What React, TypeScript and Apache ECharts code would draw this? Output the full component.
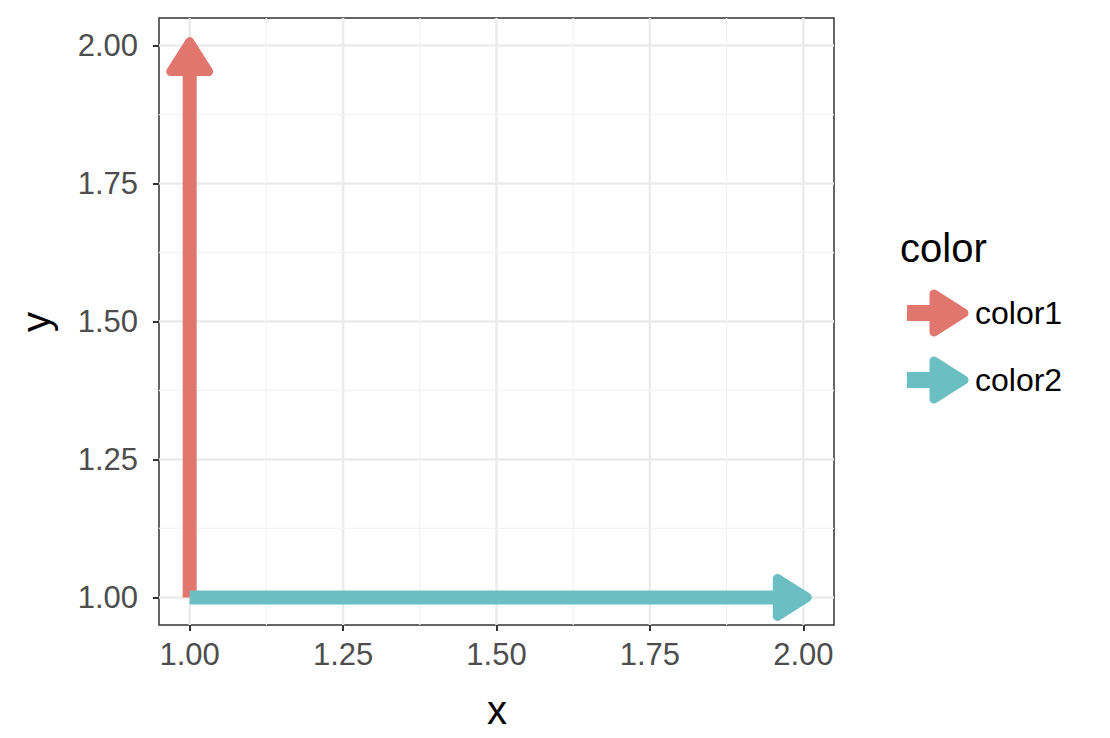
import React, { useEffect, useRef } from "react";
import * as echarts from "echarts";

const seriesNames = ["color1", "color2"];
const seriesColors = ["#E0766D", "#6BBFC3"];
// segments: [x, y, xend, yend]
const segments = [
  [1, 1, 1, 2],
  [1, 1, 2, 1],
];
const majorTicks = [1, 1.25, 1.5, 1.75, 2];
const minorTicks = [1.125, 1.375, 1.625, 1.875];
const axisMin = 0.95;
const axisMax = 2.05;

function arrowShapes(x1: number, y1: number, x2: number, y2: number, color: string, shaft: number) {
  const dx = x2 - x1;
  const dy = y2 - y1;
  const len = Math.sqrt(dx * dx + dy * dy) || 1;
  const ux = dx / len;
  const uy = dy / len;
  const px = -uy;
  const py = ux;
  const tipX = x2 + ux * 4;
  const tipY = y2 + uy * 4;
  const headLen = 30;
  const halfW = 19;
  const bx = tipX - ux * headLen;
  const by = tipY - uy * headLen;
  return [
    {
      type: "polyline",
      shape: { points: [[x1, y1], [bx + ux * 4, by + uy * 4]] },
      style: { stroke: color, lineWidth: shaft, lineCap: "butt", fill: null },
    },
    {
      type: "polygon",
      shape: {
        points: [
          [tipX, tipY],
          [bx + px * halfW, by + py * halfW],
          [bx - px * halfW, by - py * halfW],
        ],
      },
      style: { fill: color, stroke: color, lineWidth: 9, lineJoin: "round" },
    },
  ];
}

export default function App() {
  const ref = useRef<HTMLDivElement>(null);
  useEffect(() => {
    if (!ref.current) return;
    const chart = echarts.init(ref.current, undefined, { renderer: "svg" });
    const gridLeft = 159, gridTop = 18, gridRight = 276, gridBottom = 113;

    const gridLineData = [
      ...majorTicks.map((v) => [v, 1]),
      ...minorTicks.map((v) => [v, 0]),
    ];

    const legendGraphics: any[] = [
      {
        type: "text",
        left: 900,
        top: 228,
        style: { text: "color", font: "40px 'Liberation Sans', Arial, sans-serif", fill: "#000" },
      },
    ];
    seriesNames.forEach((name, i) => {
      const cy = 313 + i * 67;
      legendGraphics.push({
        type: "group",
        children: arrowShapes(907, cy, 960, cy, seriesColors[i], 16),
      });
      legendGraphics.push({
        type: "text",
        x: 975,
        y: cy,
        style: {
          text: name,
          font: "32px 'Liberation Sans', Arial, sans-serif",
          fill: "#000",
          verticalAlign: "middle",
          align: "left",
        },
      });
    });

    chart.setOption({
      animation: false,
      backgroundColor: "#fff",
      grid: {
        left: gridLeft,
        top: gridTop,
        right: gridRight,
        bottom: gridBottom,
        show: true,
        borderColor: "#333333",
        borderWidth: 1.5,
        backgroundColor: "transparent",
      },
      xAxis: {
        type: "value",
        min: axisMin,
        max: axisMax,
        axisLine: { show: false },
        splitLine: { show: false },
        axisTick: { show: true, customValues: majorTicks, length: 6, lineStyle: { color: "#333", width: 2 } },
        axisLabel: {
          customValues: majorTicks,
          formatter: (v: number) => v.toFixed(2),
          color: "#4D4D4D",
          fontSize: 31,
          fontFamily: "'Liberation Sans', Arial, sans-serif",
          margin: 14,
        },
      },
      yAxis: {
        type: "value",
        min: axisMin,
        max: axisMax,
        axisLine: { show: false },
        splitLine: { show: false },
        axisTick: { show: true, customValues: majorTicks, length: 6, lineStyle: { color: "#333", width: 2 } },
        axisLabel: {
          customValues: majorTicks,
          formatter: (v: number) => v.toFixed(2),
          color: "#4D4D4D",
          fontSize: 31,
          fontFamily: "'Liberation Sans', Arial, sans-serif",
          margin: 21,
        },
      },
      graphic: [
        {
          type: "text",
          x: 497,
          y: 710,
          style: {
            text: "x",
            font: "40px 'Liberation Sans', Arial, sans-serif",
            fill: "#000",
            align: "center",
            verticalAlign: "middle",
          },
        },
        {
          type: "text",
          x: 36,
          y: 322,
          rotation: Math.PI / 2,
          style: {
            text: "y",
            font: "40px 'Liberation Sans', Arial, sans-serif",
            fill: "#000",
            align: "center",
            verticalAlign: "middle",
          },
        },
        ...legendGraphics,
      ],
      series: [
        {
          type: "custom",
          name: "grid",
          silent: true,
          z: 1,
          data: gridLineData,
          renderItem: (params: any, api: any) => {
            const v = api.value(0);
            const major = api.value(1) === 1;
            const cs = params.coordSys;
            const px = api.coord([v, axisMin])[0];
            const py = api.coord([axisMin, v])[1];
            const style = { stroke: major ? "#EBEBEB" : "#F3F3F3", lineWidth: major ? 2.5 : 1.3 };
            return {
              type: "group",
              children: [
                { type: "line", shape: { x1: px, y1: cs.y, x2: px, y2: cs.y + cs.height }, style },
                { type: "line", shape: { x1: cs.x, y1: py, x2: cs.x + cs.width, y2: py }, style },
              ],
            };
          },
        },
        ...seriesNames.map((name, i) => ({
          type: "custom",
          name,
          z: 3,
          data: [segments[i]],
          renderItem: (params: any, api: any) => {
            const s = api.coord([api.value(0), api.value(1)]);
            const e = api.coord([api.value(2), api.value(3)]);
            return { type: "group", children: arrowShapes(s[0], s[1], e[0], e[1], seriesColors[i], 14) };
          },
        })),
      ],
    });
    return () => chart.dispose();
  }, []);
  return <div ref={ref} style={{ width: 1110, height: 738, margin: -8 }} />;
}
